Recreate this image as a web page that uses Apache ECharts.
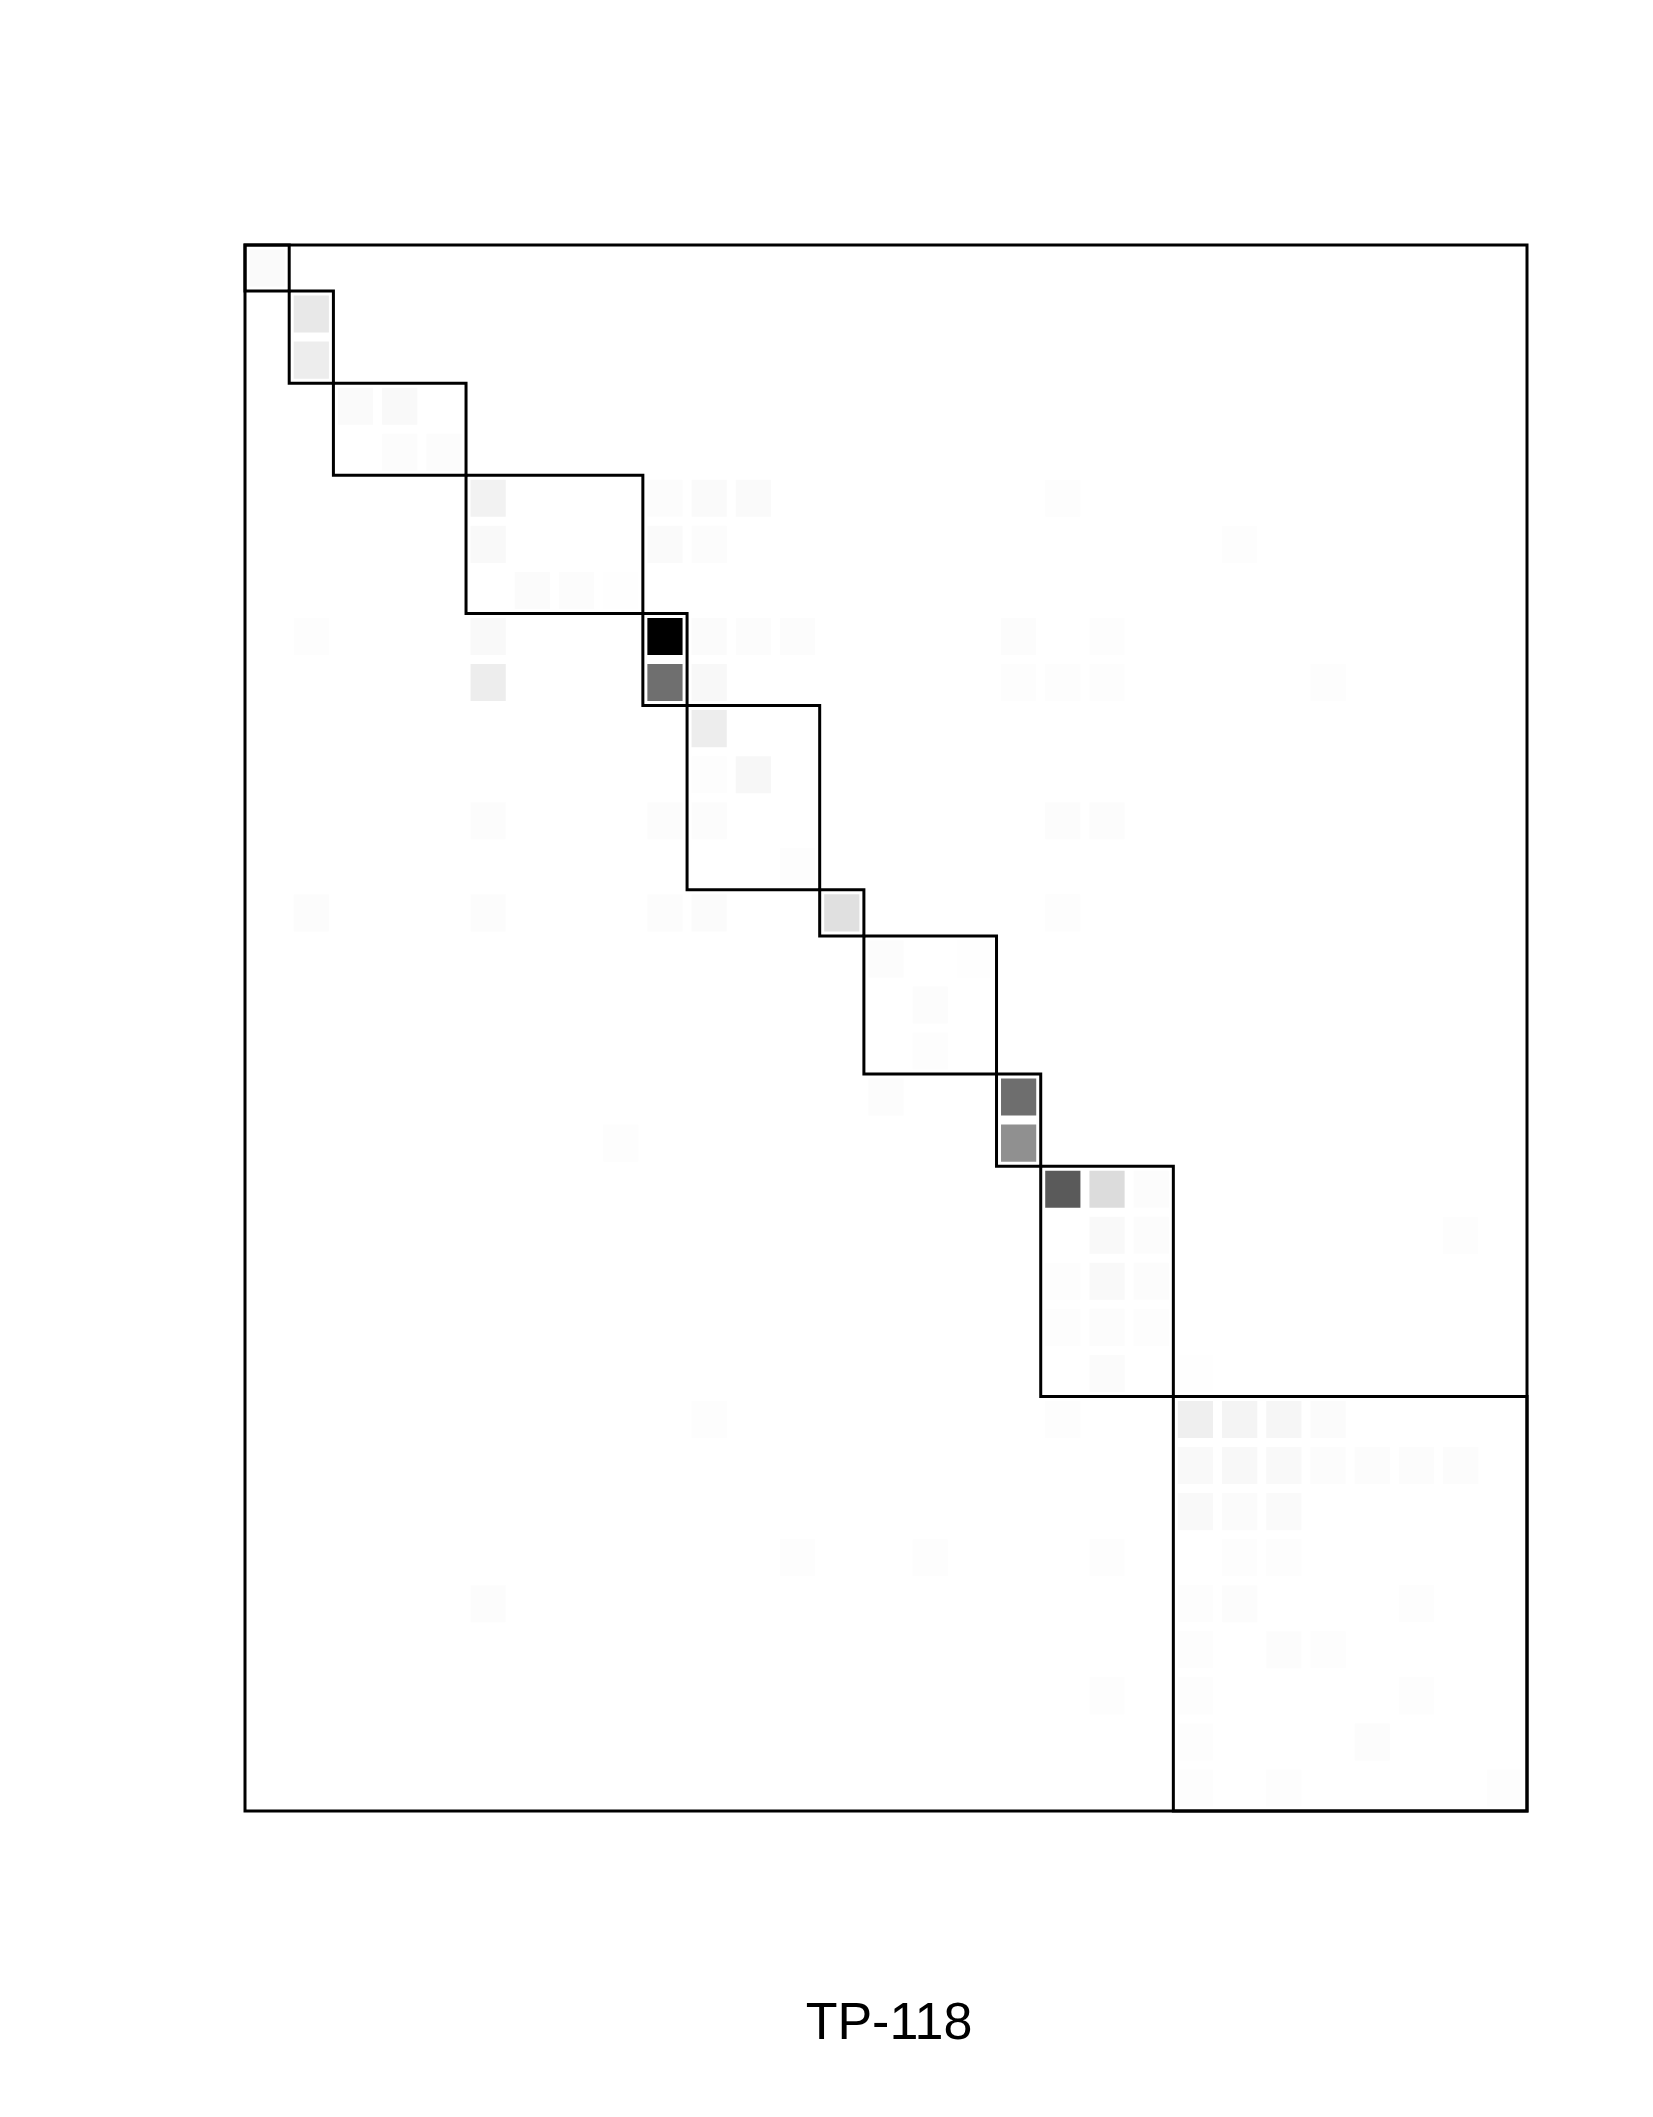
<!DOCTYPE html>
<html>
<head>
<meta charset="utf-8">
<script src="https://cdn.jsdelivr.net/npm/echarts@6/dist/echarts.min.js"></script>
<style>html,body{margin:0;padding:0;background:#fff}#c{width:1653px;height:2117px}</style>
</head>
<body>
<div id="c"></div>
<script>
// ---- data ----
const chartTitle = 'TP-118';
const nCols = 29;
const nRows = 34;
// block sizes along columns and rows (diagonal boxes)
const blockCols = [1, 1, 3, 4, 1, 3, 1, 3, 1, 3, 8];
const blockRows = [1, 2, 2, 3, 2, 4, 1, 3, 2, 5, 9];
// cells: [column, row, intensity 0..1]
const cells = [
  [0, 0, 0.02],
  [1, 1, 0.09], [1, 2, 0.07],
  [2, 3, 0.02], [3, 3, 0.025], [3, 4, 0.012], [4, 4, 0.012],
  [5, 5, 0.05], [9, 5, 0.01], [10, 5, 0.02], [11, 5, 0.02], [18, 5, 0.008],
  [5, 6, 0.025], [9, 6, 0.02], [10, 6, 0.01], [22, 6, 0.008],
  [6, 7, 0.015], [7, 7, 0.01], [8, 7, 0.005],
  [1, 8, 0.008], [5, 8, 0.025], [9, 8, 1.0], [10, 8, 0.015], [11, 8, 0.012], [12, 8, 0.01], [17, 8, 0.01], [19, 8, 0.008],
  [5, 9, 0.07], [9, 9, 0.565], [10, 9, 0.028], [17, 9, 0.008], [18, 9, 0.008], [19, 9, 0.008], [24, 9, 0.008],
  [10, 10, 0.07],
  [10, 11, 0.008], [11, 11, 0.03],
  [5, 12, 0.012], [9, 12, 0.01], [10, 12, 0.012], [18, 12, 0.01], [19, 12, 0.012],
  [12, 13, 0.008],
  [1, 14, 0.01], [5, 14, 0.01], [9, 14, 0.01], [10, 14, 0.015], [13, 14, 0.12], [18, 14, 0.008],
  [14, 15, 0.01], [16, 15, 0.005],
  [15, 16, 0.01],
  [15, 17, 0.008],
  [14, 18, 0.012], [17, 18, 0.57],
  [8, 19, 0.008], [17, 19, 0.435],
  [18, 20, 0.647], [19, 20, 0.137], [20, 20, 0.01],
  [19, 21, 0.025], [20, 21, 0.012], [27, 21, 0.008],
  [18, 22, 0.008], [19, 22, 0.025], [20, 22, 0.01],
  [18, 23, 0.008], [19, 23, 0.01], [20, 23, 0.008],
  [19, 24, 0.015], [21, 24, 0.005],
  [10, 25, 0.008], [18, 25, 0.008], [21, 25, 0.063], [22, 25, 0.043], [23, 25, 0.035], [24, 25, 0.015],
  [21, 26, 0.025], [22, 26, 0.028], [23, 26, 0.025], [24, 26, 0.01], [25, 26, 0.01], [26, 26, 0.01], [27, 26, 0.012],
  [21, 27, 0.025], [22, 27, 0.015], [23, 27, 0.02],
  [12, 28, 0.008], [15, 28, 0.008], [19, 28, 0.008], [22, 28, 0.008], [23, 28, 0.008],
  [5, 29, 0.01], [21, 29, 0.008], [22, 29, 0.01], [26, 29, 0.008],
  [21, 30, 0.008], [23, 30, 0.01], [24, 30, 0.008],
  [19, 31, 0.008], [21, 31, 0.006], [26, 31, 0.006],
  [21, 32, 0.006], [25, 32, 0.01],
  [21, 33, 0.006], [23, 33, 0.006], [28, 33, 0.006]
];

// ---- build block rectangles from sizes ----
const blocks = [];
let c0 = 0, r0 = 0;
for (let i = 0; i < blockCols.length; i++) {
  blocks.push([c0, r0, c0 + blockCols[i], r0 + blockRows[i]]);
  c0 += blockCols[i];
  r0 += blockRows[i];
}

const chart = echarts.init(document.getElementById('c'), null, {renderer: 'canvas'});
const INSET = 4.5;

chart.setOption({
  backgroundColor: '#ffffff',
  animation: false,
  title: {
    text: chartTitle,
    left: 884,
    top: 1994,
    textAlign: 'center',
    textStyle: {fontFamily: 'Liberation Sans, Arial, sans-serif', fontSize: 52, fontWeight: 'normal', color: '#000'}
  },
  grid: {
    left: 245, top: 245, right: 126, bottom: 306,
    show: true, borderColor: '#000', borderWidth: 3, backgroundColor: 'transparent', z: 10
  },
  xAxis: {type: 'value', min: 0, max: nCols, show: false},
  yAxis: {type: 'value', min: 0, max: nRows, inverse: true, show: false},
  visualMap: {
    show: false, type: 'continuous', seriesIndex: 0, dimension: 2,
    min: 0, max: 1, inRange: {color: ['#ffffff', '#000000']}
  },
  series: [
    {
      type: 'custom',
      data: cells,
      encode: {x: 0, y: 1},
      renderItem: function (params, api) {
        const c = api.value(0), r = api.value(1);
        const p0 = api.coord([c, r]);
        const p1 = api.coord([c + 1, r + 1]);
        const x = Math.min(p0[0], p1[0]), y = Math.min(p0[1], p1[1]);
        const w = Math.abs(p1[0] - p0[0]), h = Math.abs(p1[1] - p0[1]);
        return {
          type: 'rect',
          shape: {x: x + INSET, y: y + INSET, width: w - 2 * INSET, height: h - 2 * INSET},
          style: {fill: api.visual('color')}
        };
      }
    },
    {
      type: 'custom',
      data: blocks,
      z: 5,
      renderItem: function (params, api) {
        const p0 = api.coord([api.value(0), api.value(1)]);
        const p1 = api.coord([api.value(2), api.value(3)]);
        return {
          type: 'rect',
          shape: {x: p0[0], y: p0[1], width: p1[0] - p0[0], height: p1[1] - p0[1]},
          style: {fill: 'none', stroke: '#000', lineWidth: 3}
        };
      }
    }
  ]
});
</script>
</body>
</html>
